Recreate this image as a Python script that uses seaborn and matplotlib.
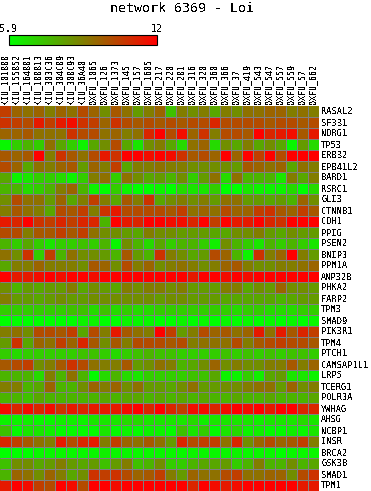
import matplotlib
matplotlib.use("Agg")
import matplotlib.pyplot as plt
from matplotlib.colors import LinearSegmentedColormap
import seaborn as sns
import pandas as pd

# sample names along the top
samples = ["KIU_101B88", "KIU_155B52", "KIU_164B81", "KIU_188B13", "KIU_303C36", "KIU_304C89",
           "KIU_308C93", "KIU_36A40", "OXFU_1065", "OXFU_126", "OXFU_1373", "OXFU_145",
           "OXFU_157", "OXFU_1605", "OXFU_217", "OXFU_220", "OXFU_281", "OXFU_316", "OXFU_320",
           "OXFU_360", "OXFU_366", "OXFU_37", "OXFU_419", "OXFU_543", "OXFU_547", "OXFU_557",
           "OXFU_559", "OXFU_57", "OXFU_662"]

genes = ["RASAL2", "SF3B1", "NDRG1", "TP53", "ERBB2", "EPB41L2", "BARD1", "RSRC1", "GLI3", "CTNNB1",
         "CDH1", "PPIG", "PSEN2", "BNIP3", "PPM1A", "ANP32B", "PHKA2", "FARP2", "TPM3", "SMAD9",
         "PIK3R1", "TPM4", "PTCH1", "CAMSAP1L1", "LRP5", "TCERG1", "POLR3A", "YWHAG", "AHSG",
         "NCBP1", "INSR", "BRCA2", "GSK3B", "SMAD1", "TPM1"]

# values, one row per gene
expr = [
    [10.5,9.6,9.3,9.6,9.0,9.6,9.3,10.2,9.6,8.6,9.9,9.3,8.3,9.0,9.6,7.4,9.0,8.6,9.0,8.0,9.0,8.6,9.3,9.3,9.6,9.6,9.0,9.3,9.0],
    [10.8,10.5,10.2,11.4,10.5,11.4,11.7,10.8,10.5,9.6,10.8,10.2,9.9,10.2,9.9,10.2,9.9,10.2,10.2,11.1,10.2,10.2,10.2,10.2,9.9,10.2,10.2,9.9,10.2],
    [9.6,9.6,9.9,9.3,9.3,9.3,10.8,10.2,10.2,9.3,9.6,9.0,9.3,11.1,12,10.2,11.7,9.6,10.8,9.0,10.2,10.2,9.9,12,11.1,11.4,11.7,9.9,11.4],
    [6.1,7.1,7.7,7.1,9.3,8.0,7.1,6.2,8.0,8.6,10.2,8.0,6.5,8.6,9.0,8.0,6.8,9.3,9.6,6.8,8.6,8.0,9.0,8.0,8.6,8.0,6.1,8.3,6.8],
    [9.9,9.6,9.9,12,9.0,10.8,9.9,9.3,10.2,11.4,10.8,12,12,11.7,12,11.7,10.8,9.9,10.2,9.6,12,9.6,12,10.5,12,10.2,12,12,12],
    [10.2,9.6,8.0,9.3,9.0,9.6,9.9,8.3,9.6,9.0,10.5,8.0,9.0,9.0,9.3,9.0,9.0,8.6,8.6,8.6,8.6,8.3,9.9,9.6,9.3,9.6,8.0,9.3,9.0],
    [8.0,6.2,6.5,7.1,7.1,6.8,6.2,7.1,9.0,9.3,7.1,9.3,8.6,8.0,8.3,7.7,8.6,7.1,8.3,9.3,6.8,9.3,7.7,7.7,7.7,6.5,9.0,8.0,9.0],
    [7.7,7.7,6.8,7.1,7.7,9.0,9.6,7.7,6.2,5.9,7.1,6.2,5.9,5.9,6.2,5.9,6.8,6.5,6.5,7.1,5.9,5.9,6.5,6.2,6.2,6.2,6.8,5.9,6.8],
    [8.6,10.2,9.3,9.3,8.3,9.6,8.0,9.0,10.5,9.0,8.0,9.9,9.0,10.8,8.0,8.6,9.0,8.6,9.0,8.3,9.3,9.3,8.3,8.3,8.0,8.3,7.7,9.6,8.6],
    [9.0,9.9,9.3,9.0,8.0,10.2,9.9,10.5,9.0,10.8,11.4,10.2,10.2,10.2,10.2,9.9,10.5,9.3,9.6,9.3,10.2,9.6,9.6,10.5,10.8,9.9,9.6,10.5,9.9],
    [11.4,11.1,12,10.8,10.5,11.1,10.5,11.1,11.1,7.7,12,11.4,11.1,12,12,11.7,11.7,11.1,12,10.5,12,11.4,11.4,12,11.1,10.8,12,12,12],
    [10.2,10.2,9.0,9.9,9.9,10.5,9.9,10.5,9.3,8.6,8.6,8.3,8.0,9.0,8.6,8.6,8.3,8.3,8.3,8.0,8.0,8.6,8.6,9.0,8.3,8.0,8.6,8.3,8.3],
    [7.7,7.1,8.0,7.1,6.5,7.1,7.1,7.4,7.1,7.7,6.1,8.6,7.7,6.8,8.0,7.1,7.7,7.7,7.1,6.3,8.6,7.7,7.1,6.5,7.7,7.1,7.7,7.1,6.5],
    [9.3,8.6,10.8,7.1,10.5,7.7,9.3,8.6,8.6,8.3,7.7,9.9,8.3,7.7,10.8,9.0,8.6,8.0,8.3,10.2,9.6,7.7,6.2,10.8,9.0,9.6,12,9.0,8.3],
    [8.0,9.0,9.0,9.6,9.0,9.0,9.0,8.6,9.9,9.6,8.6,10.2,9.0,9.6,8.6,9.0,9.3,9.0,8.6,9.0,9.6,9.9,9.0,8.6,8.6,9.0,9.0,9.3,9.6],
    [12,11.4,11.4,11.7,12,11.7,12,12,11.7,12,12,12,12,12,12,12,12,11.4,12,12,11.7,12,11.7,12,12,12,12,12,12],
    [8.6,7.7,8.3,8.0,8.3,8.3,9.0,8.0,8.6,8.3,8.0,9.0,8.6,9.0,9.0,8.6,9.0,8.3,8.3,8.3,9.0,9.0,8.0,8.6,8.3,9.6,8.6,8.6,8.3],
    [9.0,8.3,8.3,8.0,8.3,8.6,8.3,8.3,8.6,8.6,8.6,8.6,8.6,8.6,8.3,8.6,8.6,8.3,8.3,8.3,8.0,8.0,8.0,8.0,8.0,7.7,8.0,8.3,8.3],
    [7.1,7.1,7.1,7.1,7.1,7.1,7.4,7.4,6.8,7.4,6.8,7.1,6.8,6.8,7.1,7.1,7.1,7.1,7.1,7.1,7.1,6.8,7.1,7.1,6.8,6.8,6.8,7.1,7.1],
    [5.9,5.9,5.9,5.9,5.9,5.9,5.9,6.2,6.2,5.9,5.9,6.2,6.1,6.1,5.9,5.9,6.2,5.9,6.1,5.9,6.1,5.9,6.1,5.9,6.1,5.9,6.1,5.9,6.1],
    [9.0,9.3,8.6,10.2,10.2,9.9,10.5,8.0,10.2,9.0,11.4,9.9,9.3,9.0,12,10.5,8.3,9.0,10.2,9.6,9.9,9.3,9.6,11.4,9.3,11.4,9.9,11.1,10.5],
    [8.3,10.8,8.0,9.6,9.3,10.5,9.6,11.1,9.9,8.6,9.9,9.0,10.2,10.2,10.2,9.9,10.2,9.0,9.3,9.3,9.3,10.2,9.0,9.9,10.2,10.5,10.2,10.2,9.9],
    [7.1,6.8,7.1,7.1,7.1,7.1,7.1,7.4,7.4,7.1,6.8,7.1,7.4,7.7,7.4,7.4,7.1,7.1,7.1,7.1,7.4,7.1,7.4,7.1,7.4,7.1,7.4,7.4,7.1],
    [9.9,10.2,10.5,8.6,9.0,9.9,10.8,10.2,9.3,9.0,9.0,9.9,8.3,8.6,9.3,9.0,7.7,8.0,8.6,9.6,8.6,9.0,8.6,8.6,9.0,9.0,9.9,9.0,9.6],
    [7.7,7.7,7.7,6.8,9.0,7.7,9.3,7.7,6.0,6.8,7.7,6.8,6.5,7.1,7.1,7.1,7.1,7.4,7.4,8.0,6.2,6.2,7.1,6.3,8.0,8.3,6.5,6.5,6.2],
    [9.0,9.0,7.7,8.0,9.6,7.7,7.7,8.6,9.6,9.0,9.6,8.6,9.3,8.3,8.3,8.0,8.6,9.3,8.3,8.3,8.6,8.6,9.0,9.3,9.3,8.3,9.6,8.6,9.0],
    [7.7,7.7,7.4,8.0,7.7,7.7,7.7,7.7,7.7,8.0,7.7,8.0,8.0,7.7,8.0,7.7,8.0,7.7,8.0,7.7,7.7,8.0,7.7,7.7,8.0,7.7,7.7,7.7,8.0],
    [11.7,11.1,11.7,11.1,11.7,10.8,11.4,11.1,11.4,11.4,11.4,11.7,12,11.1,12,11.1,10.5,11.7,11.7,11.1,11.7,12,11.7,12,11.4,12,12,11.1,11.1],
    [6.2,6.2,6.3,6.1,6.1,6.3,6.3,6.2,6.5,6.5,6.5,6.8,6.8,6.5,6.5,6.5,6.5,6.8,6.3,6.5,6.5,6.5,6.5,6.3,6.5,6.5,6.5,6.8,6.5],
    [7.4,6.0,6.5,6.5,6.3,6.0,6.0,6.0,6.0,6.5,6.0,6.2,6.0,6.2,6.2,6.0,7.4,6.5,7.1,6.0,6.5,6.8,6.2,6.3,6.0,6.0,6.3,6.1,6.5],
    [11.1,10.5,9.9,9.3,9.0,11.4,10.2,11.1,11.4,9.0,10.5,9.6,9.3,9.9,9.3,8.3,11.1,10.2,10.5,10.5,9.3,11.1,8.6,9.6,10.2,9.6,9.9,10.5,9.0],
    [5.9,5.9,5.9,6.1,6.1,6.1,6.1,6.1,6.1,6.3,6.1,6.1,6.1,6.1,6.1,6.1,6.1,6.2,6.1,6.1,6.1,6.2,6.1,6.1,6.1,5.9,6.1,6.1,6.1],
    [7.4,8.6,8.6,8.0,8.3,9.0,8.3,8.0,8.3,7.4,8.3,9.0,7.4,7.7,8.6,7.1,7.1,7.7,8.0,8.0,8.3,7.1,7.7,9.0,7.7,7.7,8.6,7.7,8.0],
    [7.7,9.6,9.3,8.6,9.6,9.0,8.0,8.6,10.8,10.5,10.8,10.2,9.6,9.9,10.5,9.0,8.3,9.6,9.3,9.3,10.2,10.5,9.3,9.3,9.6,9.6,8.6,10.2,10.8],
    [11.4,12,11.7,10.5,10.2,12,11.7,10.2,12,12,11.7,12,12,12,12,12,12,11.1,12,11.7,11.4,11.7,12,12,12,12,12,11.4,11.4],
]

vmin = 5.9
vmax = 12

df = pd.DataFrame(expr, index=genes, columns=samples)

sns.set_theme(style="white")
plt.rcParams['font.family'] = ['DejaVu Sans Mono']
plt.rcParams['text.antialiased'] = False

W, H = 371, 491
fig = plt.figure(figsize=(W / 100, H / 100), dpi=100)

# green -> olive -> red
cmap = LinearSegmentedColormap.from_list("gr", ["#00ff00", "#808000", "#ff0000"])

# half pixel shift so the grid lines land on whole pixels
ax = fig.add_axes([-0.5 / W, 0.5 / H, 319 / W, 385 / H])
cax = fig.add_axes([8.5 / W, 1 - 45 / H, 148 / W, 10 / H])

sns.heatmap(df, ax=ax, cmap=cmap, vmin=vmin, vmax=vmax, linewidths=0,
            cbar_ax=cax, cbar_kws={"orientation": "horizontal", "ticks": [vmin, vmax]},
            xticklabels=True, yticklabels=True)

# 1px grey grid between the cells
ax.vlines(range(1, len(samples) + 1), 0, len(genes), colors="#808080", linewidth=0.72)
ax.hlines(range(1, len(genes)), 0, len(samples), colors="#808080", linewidth=0.72)

ax.yaxis.tick_right()
ax.xaxis.tick_top()
ax.tick_params(axis="x", length=0, pad=1, labelsize=6, labelrotation=90, colors="black")
ax.tick_params(axis="y", length=0, pad=2, labelsize=6.2, labelrotation=0, colors="black")
ax.set_xlabel("")
ax.set_ylabel("")

# colour bar with its two end labels above
cbar = ax.collections[0].colorbar
cbar.outline.set_visible(True)
cbar.outline.set_edgecolor("black")
cbar.outline.set_linewidth(0.8)
cax.xaxis.set_ticks_position("top")
cax.set_xticklabels(["5.9", "12"])
cax.tick_params(axis="x", length=0, pad=1, labelsize=7.2, colors="black")

fig.text(182 / W, 1 - 9 / H, "network 6369 - Loi", ha="center", va="center", fontsize=9.6, color="black")

fig.savefig("out.png", dpi=100)
